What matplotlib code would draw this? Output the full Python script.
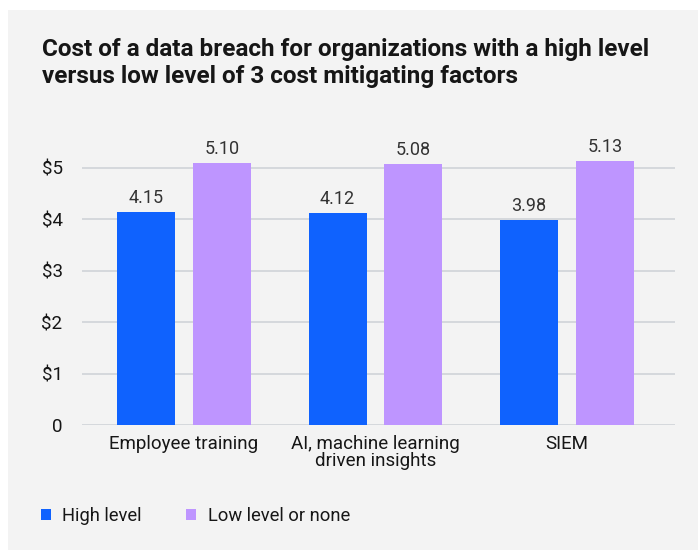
import matplotlib.pyplot as plt
import numpy as np
from matplotlib.patches import Rectangle, Patch

categories = ['Employee training', 'AI, machine learning\ndriven insights', 'SIEM']
high_level = [4.15, 4.12, 3.98]
low_level = [5.10, 5.08, 5.13]
series_names = ['High level', 'Low level or none']
yticks = [0, 1, 2, 3, 4, 5]
ytick_labels = ['0', '$1', '$2', '$3', '$4', '$5']

blue = '#0f62fe'
purple = '#be95ff'
bg = '#f3f3f3'

plt.rcParams['font.family'] = ['Roboto', 'DejaVu Sans']

fig = plt.figure(figsize=(6.98, 5.5), dpi=100)
fig.patch.set_facecolor('white')
fig.patches.append(Rectangle((8 / 698, 0), 1, 1 - 10 / 550, transform=fig.transFigure,
                             facecolor=bg, edgecolor='none', zorder=-10))

ax = fig.add_axes([82 / 698, 1 - 425 / 550, 593 / 698, 5.5 * 51.4 / 550])
ax.set_facecolor(bg)

x = np.arange(len(categories))
w = 0.303
off = 0.198
b1 = ax.bar(x - off, high_level, w, color=blue, zorder=3)
b2 = ax.bar(x + off, low_level, w, color=purple, zorder=3)
for bars, vals in [(b1, high_level), (b2, low_level)]:
    for b, v in zip(bars, vals):
        ax.text(b.get_x() + b.get_width() / 2, v + 0.1, f'{v:.2f}',
                ha='center', va='bottom', fontsize=13, color='#333333')

ax.set_xlim(-0.533, 2.564)
ax.set_ylim(0, 5.5)
ax.set_yticks(yticks, ytick_labels)
ax.set_xticks(x, categories)
ax.grid(axis='y', color='#d0d3d8', linewidth=1.2, zorder=0)
for s in ax.spines.values():
    s.set_visible(False)
ax.tick_params(axis='y', length=0, pad=14, labelsize=13.5, labelcolor='#161616')
ax.tick_params(axis='x', length=0, pad=7, labelsize=13.5, labelcolor='#161616')
for lbl in ax.get_xticklabels():
    lbl.set_linespacing(0.95)

fig.text(42 / 698, 1 - 38 / 550,
         'Cost of a data breach for organizations with a high level\nversus low level of 3 cost mitigating factors',
         ha='left', va='top', fontsize=17.5, fontweight='bold', color='#161616', linespacing=1.25)

handles = [Patch(facecolor=blue, edgecolor='none'), Patch(facecolor=purple, edgecolor='none')]
fig.legend(handles, series_names, loc='center left', bbox_to_anchor=(24 / 698, 1 - 516 / 550),
           ncol=2, frameon=False, fontsize=13.2, handlelength=0.55, handleheight=0.55,
           handletextpad=0.65, columnspacing=2.4, labelcolor='#161616')

plt.savefig('out.png', dpi=100, facecolor='white')
